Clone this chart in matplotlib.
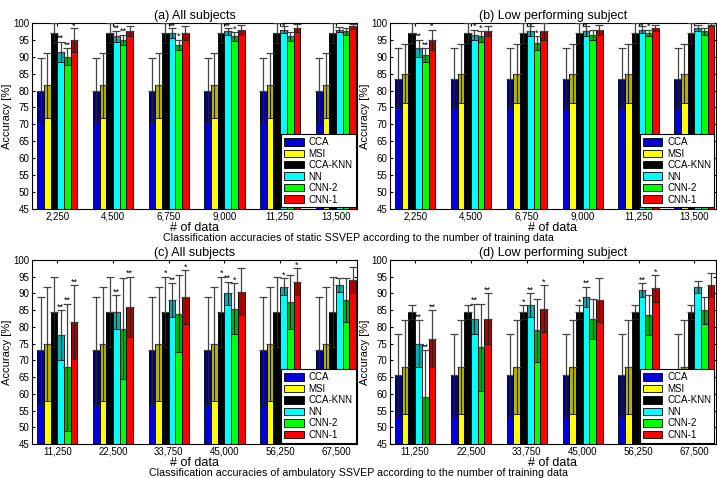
import numpy as np
import matplotlib
matplotlib.use("Agg")
import matplotlib.pyplot as plt

plt.rcParams['font.family'] = ['Liberation Sans', 'DejaVu Sans']

# ----------
# DATA
# ----------
methods = ['CCA', 'MSI', 'CCA-KNN', 'NN', 'CNN-2', 'CNN-1']
colors = ['#0000d8', '#ffff00', '#000000', '#00ffff', '#00ff00', '#ff0000']

static_labels = ['2,250', '4,500', '6,750', '9,000', '11,250', '13,500']
ambulatory_labels = ['11,250', '22,500', '33,750', '45,000', '56,250', '67,500']

# (a) static, all subjects
a_mean = [[80.0] * 6,
          [81.5] * 6,
          [97.0] * 6,
          [91.5, 96.0, 97.0, 97.5, 98.0, 98.0],
          [90.0, 95.0, 93.5, 96.0, 96.0, 97.5],
          [95.0, 97.5, 97.0, 98.0, 98.5, 99.0]]
a_std = [[9.5] * 6,
         [9.5] * 6,
         [3.0] * 6,
         [3.0, 1.5, 1.5, 1.0, 1.0, 0.8],
         [2.5, 1.5, 1.5, 1.2, 1.2, 1.0],
         [3.5, 1.5, 2.0, 1.5, 1.2, 0.8]]
a_sig = [['', '', '', '**', '**', '*'],
         ['', '', '', '**', '**', ''],
         ['', '', '', '**', '*', ''],
         ['', '', '', '**', '*', ''],
         ['', '', '', '*', '', ''],
         ['', '', '', '', '', '']]

# (b) static, low performing subject
b_mean = [[83.5] * 6,
          [85.0] * 6,
          [97.0] * 6,
          [92.5, 96.5, 97.5, 97.5, 98.0, 98.5],
          [90.5, 96.0, 94.0, 96.5, 97.0, 97.5],
          [95.0, 97.5, 97.5, 98.0, 98.5, 99.5]]
b_std = [[9.0] * 6,
         [8.8] * 6,
         [3.0] * 6,
         [2.5, 1.5, 1.5, 1.5, 1.0, 0.8],
         [2.0, 1.5, 2.0, 1.5, 1.0, 1.0],
         [3.0, 1.5, 2.5, 1.5, 1.0, 0.5]]
b_sig = [['', '', '', '**', '**', '*'],
         ['', '', '', '*', '*', ''],
         ['', '', '', '*', '*', ''],
         ['', '', '', '*', '', ''],
         ['', '', '', '*', '*', ''],
         ['', '', '', '', '', '']]

# (c) ambulatory, all subjects
c_mean = [[73.0] * 6,
          [75.0] * 6,
          [84.5] * 6,
          [77.5, 84.5, 88.0, 90.0, 92.0, 92.5],
          [68.0, 79.5, 84.0, 85.5, 87.5, 88.0],
          [81.5, 86.0, 89.0, 90.5, 93.5, 94.0]]
c_std = [[16.0] * 6,
         [17.0] * 6,
         [10.5] * 6,
         [7.5, 5.0, 5.0, 3.5, 2.5, 2.0],
         [19.0, 15.0, 11.5, 7.5, 8.0, 6.5],
         [11.0, 9.0, 8.0, 7.0, 4.0, 4.0]]
c_sig = [['', '', '', '**', '**', '**'],
         ['', '', '', '**', '', '**'],
         ['', '', '*', '**', '', '*'],
         ['', '', '*', '**', '*', ''],
         ['', '', '', '*', '', '*'],
         ['', '', '', '', '', '']]

# (d) ambulatory, low performing subject
d_mean = [[65.5] * 6,
          [68.0] * 6,
          [84.5] * 6,
          [75.0, 82.5, 86.5, 89.0, 91.0, 92.0],
          [59.0, 74.0, 79.0, 82.5, 83.5, 85.0],
          [76.5, 82.5, 85.5, 88.0, 91.5, 92.5]]
d_std = [[12.5] * 6,
         [14.0] * 6,
         [2.0] * 6,
         [7.0, 4.5, 3.5, 3.0, 2.0, 1.8],
         [14.0, 13.0, 9.5, 6.0, 6.0, 4.0],
         [8.5, 7.5, 7.0, 6.5, 4.0, 3.5]]
d_sig = [['', '', '', '**', '**', '**'],
         ['', '', '', '**', '', '**'],
         ['', '', '*', '**', '', '*'],
         ['', '', '*', '**', '', ''],
         ['', '', '', '**', '', '*'],
         ['', '', '', '', '', '']]

# ----------
# PLOTTING
# ----------
fig = plt.figure(figsize=(7.17, 4.78), dpi=100)

w = 0.12
ngroups = 6


def draw_panel(rect, title, labels, mean, std, sig):
    ax = fig.add_axes(rect)
    groups = np.arange(1, ngroups + 1)
    for i, name in enumerate(methods):
        x = groups + (i - 2.5) * w
        m = np.array(mean[i])
        s = np.array(std[i])
        ax.bar(x, m - 45, bottom=45, width=w, color=colors[i],
               edgecolor='black', linewidth=0.6, label=name, zorder=2)
        # darkened lower half of the error bar
        ax.bar(x, s, bottom=m - s, width=w, color='black', alpha=0.3,
               linewidth=0, zorder=3)
        ax.hlines(m - s, x - w / 2, x + w / 2, color='#222222', lw=0.7, zorder=3)
        ax.errorbar(x, m, yerr=[np.zeros_like(s), s], fmt='none',
                    ecolor='#444444', elinewidth=0.9, capsize=3.2,
                    capthick=0.9, zorder=4)
        ax.errorbar(x, m, yerr=[s, np.zeros_like(s)], fmt='none',
                    ecolor='#222222', elinewidth=0.8, capsize=0, zorder=4)
        for g in range(ngroups):
            mark = sig[g][i]
            if mark:
                # keep the markers inside the frame, like the clipped originals
                ypos = min(m[g] + s[g] - 0.4, 97.8)
                ax.text(x[g], ypos, mark, ha='center', va='bottom',
                        fontsize=6.5, zorder=5, clip_on=True)
    ax.set_xlim(0.55, 6.38)
    ax.set_ylim(45, 100)
    ax.set_yticks(np.arange(45, 101, 5))
    ax.set_xticks(groups)
    ax.set_xticklabels(labels)
    ax.tick_params(axis='both', direction='in', labelsize=7, length=2.5,
                   pad=2, top=True, right=True)
    ax.set_ylabel('Accuracy [%]', fontsize=8, labelpad=1)
    ax.set_xlabel('# of data', fontsize=9, labelpad=0)
    ax.set_title(title, fontsize=9, pad=3)
    leg = ax.legend(loc='lower right', fontsize=7, frameon=True,
                    fancybox=False, edgecolor='black', framealpha=1,
                    borderaxespad=0.15, handlelength=2.0, handleheight=0.8,
                    labelspacing=0.15, borderpad=0.3, handletextpad=0.5)
    leg.get_frame().set_linewidth(0.8)
    leg.set_zorder(10)
    return ax


draw_panel([0.045, 0.563, 0.453, 0.389], '(a) All subjects',
           static_labels, a_mean, a_std, a_sig)
draw_panel([0.544, 0.563, 0.454, 0.389], '(b) Low performing subject',
           static_labels, b_mean, b_std, b_sig)
draw_panel([0.045, 0.071, 0.453, 0.385], '(c) All subjects',
           ambulatory_labels, c_mean, c_std, c_sig)
draw_panel([0.544, 0.071, 0.454, 0.385], '(d) Low performing subject',
           ambulatory_labels, d_mean, d_std, d_sig)

fig.text(0.5, 0.503, 'Classification accuracies of static SSVEP according to the number of training data',
         ha='center', va='center', fontsize=7.7)
fig.text(0.5, 0.010, 'Classification accuracies of ambulatory SSVEP according to the number of training data',
         ha='center', va='center', fontsize=7.7)

fig.savefig('out.png', dpi=100)
